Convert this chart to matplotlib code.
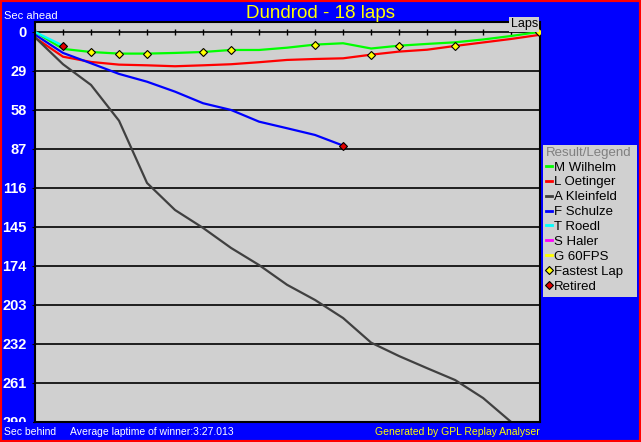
import numpy as np
import matplotlib.pyplot as plt
from matplotlib.lines import Line2D
from matplotlib.patches import Rectangle

plt.rcParams['font.family'] = ['Liberation Sans', 'DejaVu Sans']

# seconds behind winner's average pace, per lap
laps = np.arange(19)
drivers = ['M Wilhelm', 'L Oetinger', 'A Kleinfeld', 'F Schulze',
           'T Roedl', 'S Haler', 'G 60FPS']
colours = ['#00ff00', '#ff0000', '#404040', '#0000ff',
           '#00ffff', '#ff00ff', '#ffff00']

wilhelm = [0, 12.6, 14.9, 16.1, 16.1, 15.6, 14.9, 13.4, 13.4, 11.7,
           9.4, 8.4, 12.3, 10.2, 8.9, 7.7, 5.6, 3.0, 0.0]
oetinger = [4.2, 18.4, 22.3, 24.3, 24.8, 25.5, 24.8, 24.0, 22.5, 20.8,
            20.1, 19.6, 16.9, 14.6, 13.2, 10.4, 7.8, 5.2, 2.2]
kleinfeld = [4.0, 24.0, 39.4, 66.0, 112.3, 132.4, 145.7, 160.6, 173.3, 188.0,
             199.3, 212.7, 231.0, 241.0, 250.0, 258.8, 272.2, 290.0, 312.0]
schulze = [2.0, 15.6, 23.3, 31.2, 37.0, 44.4, 53.0, 58.0, 66.7, 71.6,
           76.6, 84.5]
roedl = [0, 10.2]
haler = []
fps60 = []
series = [wilhelm, oetinger, kleinfeld, schulze, roedl, haler, fps60]

# fastest lap of each lap: (lap, driver)
fl_laps = [2, 3, 4, 6, 7, 10, 12, 13, 15, 18]
fl_driver = ['M Wilhelm', 'M Wilhelm', 'M Wilhelm', 'M Wilhelm', 'M Wilhelm',
             'M Wilhelm', 'L Oetinger', 'M Wilhelm', 'L Oetinger', 'M Wilhelm']
retired = ['T Roedl', 'F Schulze']

yticks = np.arange(0, 291, 29)

W, H = 641, 442
fig = plt.figure(figsize=(W / 100, H / 100), dpi=100)
fig.patch.set_facecolor('#0000ff')
ax = fig.add_axes([35 / W, 1 - 422 / H, 505 / W, 400 / H])
ax.set_facecolor('#d0d0d0')

for y in yticks[1:-1]:
    ax.axhline(y, color='black', lw=1.2, zorder=1)
ax.axhline(0, color='black', lw=1.2, zorder=1)
ax.plot(laps, np.zeros(len(laps)), ls='', marker='|', ms=4.5, mew=1,
        color='black', zorder=1)

data = dict(zip(drivers, series))
for name, col, vals in zip(drivers, colours, series):
    if len(vals):
        ax.plot(laps[:len(vals)], vals, color=col, lw=1.6, zorder=2)

fx = fl_laps
fy = [data[d][l] for l, d in zip(fl_laps, fl_driver)]
ax.plot(fx, fy, ls='', marker='D', ms=4, mfc='#ffff00', mec='black',
        mew=0.8, zorder=3)
rx = [len(data[d]) - 1 for d in retired]
ry = [data[d][-1] for d in retired]
ax.plot(rx, ry, ls='', marker='D', ms=4, mfc='#e00000', mec='black',
        mew=0.8, zorder=3)

ax.set_xlim(0, 18.03)
ax.set_ylim(290, -7.4)
ax.set_xticks([])
ax.set_yticks(yticks)
ax.set_yticklabels([str(v) for v in yticks], color='white',
                   fontweight='bold', fontsize=10.5)
ax.tick_params(axis='y', length=2, pad=4, color='black')
for s in ax.spines.values():
    s.set_color('black')
    s.set_linewidth(1.5)

# hide lower half of the '290' label like the original
fig.add_artist(Rectangle((0, 5 / H), 33 / W, 15 / H, transform=fig.transFigure,
                         facecolor='#0000ff', edgecolor='none', zorder=1))

fig.text(0.5, 1 - 13 / H, 'Dundrod - 18 laps', color='#ffff00',
         fontsize=13.5, ha='center', va='center')
fig.text(4 / W, 1 - 16 / H, 'Sec ahead', color='white', fontsize=8,
         ha='left', va='center')
fig.text(4 / W, 1 - 432 / H, 'Sec behind', color='white', fontsize=7.5,
         ha='left', va='center')
fig.text(70 / W, 1 - 432 / H, 'Average laptime of winner:3:27.013',
         color='white', fontsize=7.5, ha='left', va='center')
fig.text(540 / W, 1 - 432 / H, 'Generated by GPL Replay Analyser',
         color='#ffff00', fontsize=7.5, ha='right', va='center')
fig.text(538 / W, 1 - 24.5 / H, 'Laps', color='black', fontsize=9,
         ha='right', va='center',
         bbox=dict(facecolor='#d0d0d0', edgecolor='none', pad=1))

# legend box
fig.add_artist(Rectangle((543 / W, 1 - 297 / H), 94 / W, 152 / H,
                         transform=fig.transFigure, facecolor='#d0d0d0',
                         edgecolor='none', zorder=1))
handles = [Line2D([], [], color=c, lw=2) for c in colours]
handles.append(Line2D([], [], ls='', marker='D', ms=4, mfc='#ffff00',
                      mec='black', mew=0.8))
handles.append(Line2D([], [], ls='', marker='D', ms=4, mfc='#e00000',
                      mec='black', mew=0.8))
labels = drivers + ['Fastest Lap', 'Retired']
leg = fig.legend(handles, labels, loc='upper left',
                 bbox_to_anchor=(543 / W, 1 - 144 / H), frameon=False,
                 fontsize=9.5, handlelength=0.45, handletextpad=0.15,
                 labelspacing=0.2, borderpad=0.2, borderaxespad=0,
                 title='Result/Legend', title_fontsize=9.5, alignment='left')
leg.get_title().set_color('#808080')
leg.set_zorder(5)

# thin red outer border
fig.add_artist(Rectangle((0, 0), 1, 1, transform=fig.transFigure, fill=False,
                         edgecolor='#ff0000', lw=3, zorder=6))

fig.savefig('out.png', dpi=100, facecolor=fig.get_facecolor())
